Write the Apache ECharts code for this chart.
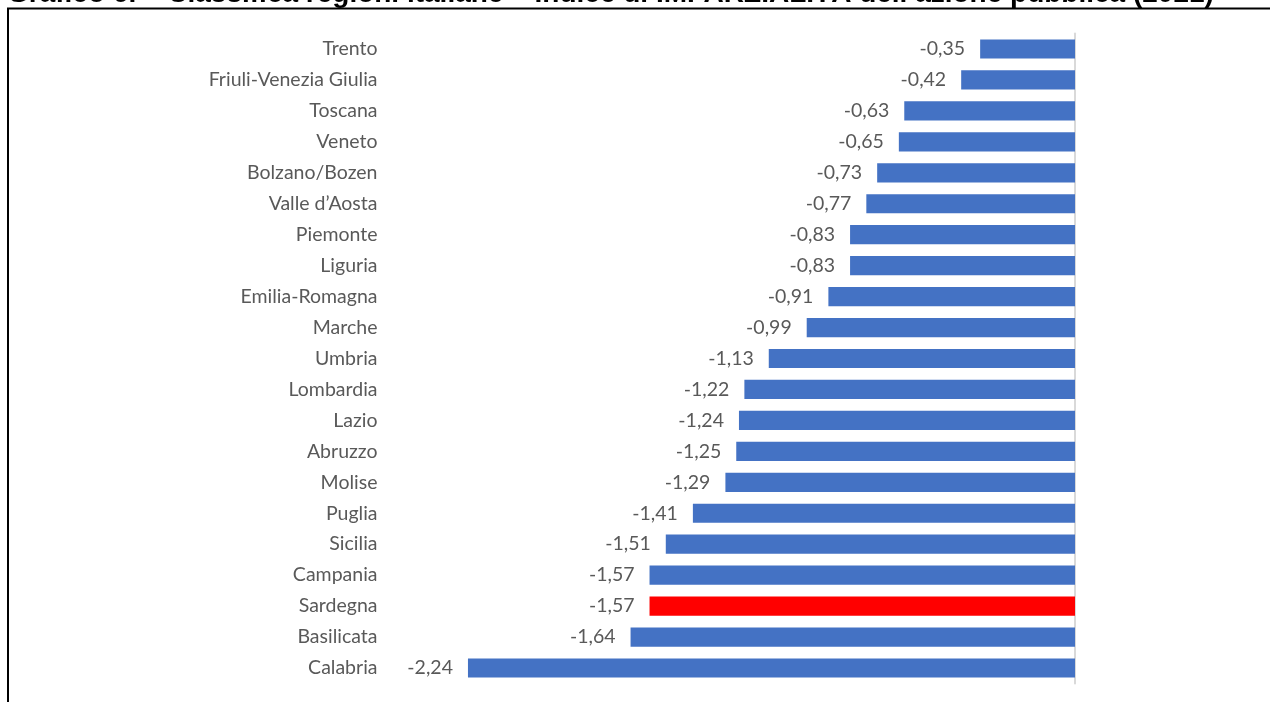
<!DOCTYPE html>
<html>
<head>
<meta charset="utf-8">
<script src="https://cdn.jsdelivr.net/npm/echarts@6/dist/echarts.min.js"></script>
<style>
html,body{margin:0;padding:0;background:#fff;}
#c{width:1270px;height:702px;}
</style>
</head>
<body>
<div id="c"></div>
<script>
const categories = ["Trento","Friuli-Venezia Giulia","Toscana","Veneto","Bolzano/Bozen","Valle d’Aosta","Piemonte","Liguria","Emilia-Romagna","Marche","Umbria","Lombardia","Lazio","Abruzzo","Molise","Puglia","Sicilia","Campania","Sardegna","Basilicata","Calabria"];
const values = [-0.35,-0.42,-0.63,-0.65,-0.73,-0.77,-0.83,-0.83,-0.91,-0.99,-1.13,-1.22,-1.24,-1.25,-1.29,-1.41,-1.51,-1.57,-1.57,-1.64,-2.24];
const highlight = "Sardegna";
const titleText = "Grafico 6. – Classifica regioni italiane – Indice di IMPARZIALITÀ dell’azione pubblica (2021)";

const chart = echarts.init(document.getElementById('c'), null, {renderer:'canvas'});
const labelFont = 'Lato, "Noto Sans", sans-serif';
chart.setOption({
  backgroundColor: '#fff',
  animation: false,
  graphic: [
    {type:'rect', shape:{x:8, y:8.5, width:1300, height:800}, style:{fill:'none', stroke:'#000', lineWidth:2}},
    {type:'text', left: 7, top: -20, style:{text:titleText, font:'bold 28px "Liberation Sans", Arial, sans-serif', fill:'#000'}}
  ],
  grid: {left: 397.5, right: 195, top: 33.5, height: 650, containLabel:false},
  xAxis: {type:'value', min:-2.5, max:0, show:false},
  yAxis: [
    {type:'category', data:categories, inverse:true, position:'left',
     axisLine:{show:false}, axisTick:{show:false}, splitLine:{show:false},
     axisLabel:{color:'#595959', fontSize:19.5, fontFamily:labelFont, margin:20}},
    {type:'category', data:categories, inverse:true, position:'right',
     axisLine:{show:true, lineStyle:{color:'#d9d9d9', width:2}}, axisTick:{show:false},
     axisLabel:{show:false}, splitLine:{show:false}}
  ],
  series: [{
    type:'bar', yAxisIndex:0,
    data: values.map((v,i)=>({value:v, itemStyle:{color: categories[i]===highlight ? '#FF0000' : '#4472C4'}})),
    barCategoryGap:'38%',
    label:{show:true, position:'left', distance:15, color:'#595959', fontSize:19.5, fontFamily:labelFont,
      formatter: p => p.value.toFixed(2).replace('.', ',')}
  }]
});
</script>
</body>
</html>
